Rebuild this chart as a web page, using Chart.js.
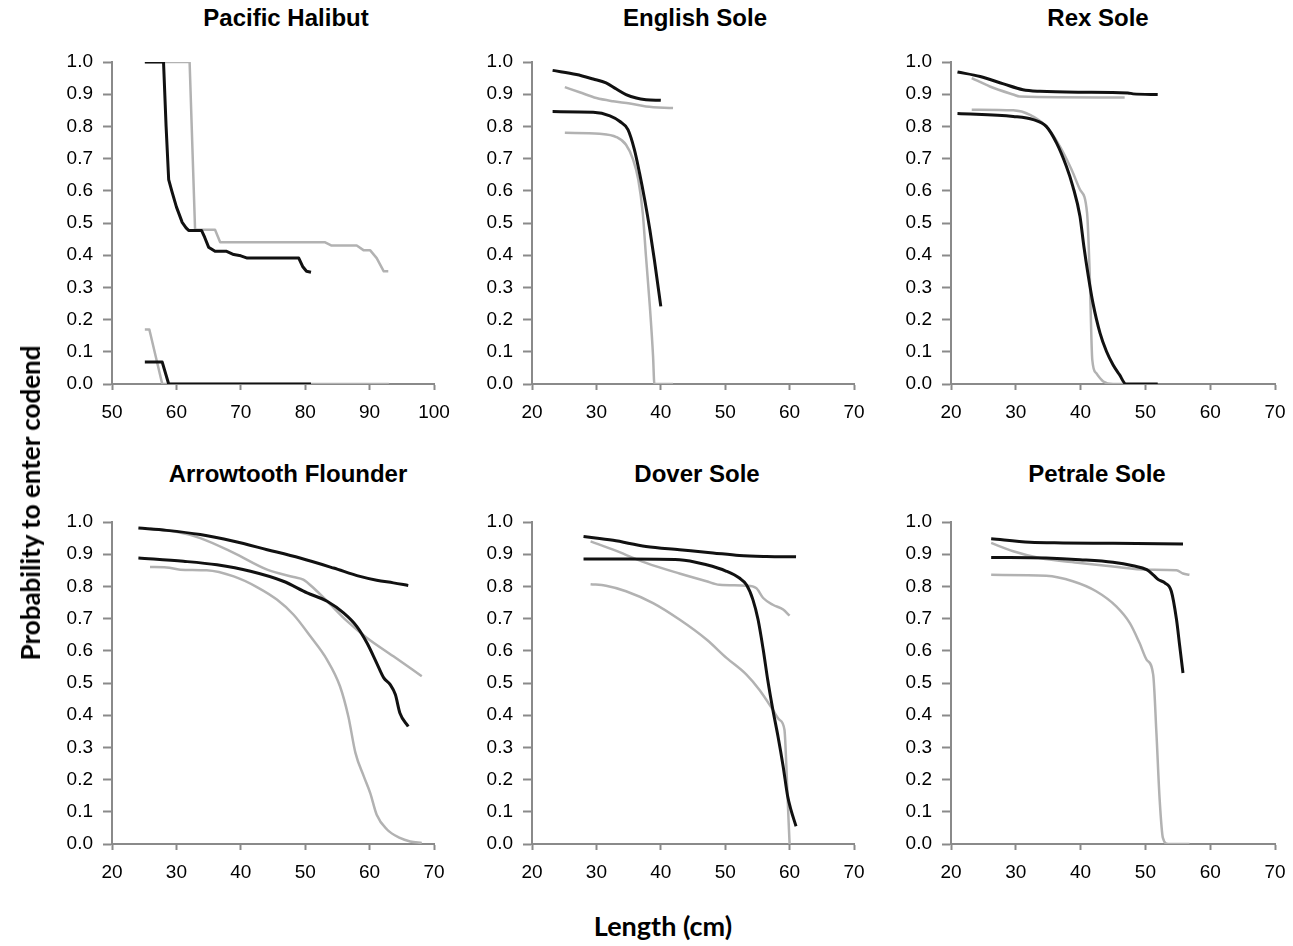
<!DOCTYPE html>
<html>
<head>
<meta charset="utf-8">
<script src="https://cdn.jsdelivr.net/npm/chart.js@4.4.1/dist/chart.umd.min.js"></script>
<style>
  html, body { margin: 0; padding: 0; background: #ffffff; }
  body { width: 1293px; height: 946px; position: relative; overflow: hidden; }
  canvas { position: absolute; }
  .panel-title {
    position: absolute; white-space: nowrap; color: #000;
    font-family: "Liberation Sans", Arial, sans-serif; font-weight: bold;
    font-size: 24px; line-height: 24px; transform: translate(-50%, -50%);
  }
  .axis-title {
    position: absolute; white-space: nowrap; color: #000;
    font-family: Lato, "Open Sans", sans-serif; font-weight: bold;
    font-size: 26px; line-height: 26px;
  }
</style>
</head>
<body>
<div id="figure"></div>
<div class="axis-title" style="left:30px; top:503px; transform: translate(-50%, -50%) rotate(-90deg);">Probability to enter codend</div>
<div class="axis-title" style="left:663px; top:925px; font-size:27px; line-height:27px; transform: translate(-50%, -50%);">Length (cm)</div>
<script>
// Species shown in each panel (row by row)
const speciesNames = ['Pacific Halibut', 'English Sole', 'Rex Sole',
                      'Arrowtooth Flounder', 'Dover Sole', 'Petrale Sole'];

// Length axis ranges (cm) per panel
const lengthMin = [50, 20, 20, 20, 20, 20];
const lengthMax = [100, 70, 70, 70, 70, 70];

// Probability axis ticks
const probTicks = [0.0, 0.1, 0.2, 0.3, 0.4, 0.5, 0.6, 0.7, 0.8, 0.9, 1.0];

// Curves as [length (cm), probability] pairs
const halibutBlackHigh = [[55.1,1.0],[58.0,1.0],[58.4,0.80],[58.8,0.635],[59.3,0.598],[60.0,0.55],[60.9,0.502],[61.5,0.485],[61.9,0.477],[63.9,0.477],[64.4,0.455],[65.0,0.425],[66.0,0.412],[67.8,0.412],[68.9,0.402],[70.0,0.398],[71.0,0.391],[79.0,0.391],[79.6,0.365],[80.2,0.35],[80.9,0.347]];
const halibutBlackLow  = [[55.1,0.068],[57.8,0.068],[58.8,0.0],[80.9,0.0]];
const halibutGreyHigh  = [[55.1,1.0],[62.05,1.0],[62.9,0.479],[66.0,0.479],[66.8,0.44],[83.1,0.44],[84.1,0.43],[88.0,0.43],[89.1,0.415],[90.1,0.415],[91.1,0.391],[92.2,0.35],[92.9,0.35]];
const halibutGreyLow   = [[55.1,0.169],[55.8,0.169],[57.8,0.0],[93.0,0.0]];

const englishBlackHigh = [[23.2,0.974],[26.9,0.961],[29.5,0.947],[31.5,0.935],[33.1,0.916],[34.6,0.899],[36.2,0.888],[37.7,0.883],[40.0,0.881]];
const englishBlackLow  = [[23.2,0.846],[29.5,0.844],[32.1,0.833],[33.6,0.816],[34.9,0.79],[35.9,0.728],[36.7,0.655],[37.5,0.572],[38.3,0.479],[39.0,0.386],[40.0,0.241]];
const englishGreyHigh  = [[25.1,0.922],[27.4,0.906],[30.0,0.888],[32.6,0.878],[35.2,0.871],[37.7,0.862],[41.9,0.857]];
const englishGreyLow   = [[25.1,0.78],[30.5,0.777],[33.1,0.767],[34.6,0.743],[35.7,0.697],[36.5,0.635],[37.2,0.531],[37.7,0.396],[38.3,0.241],[38.8,0.086],[39.0,0.0],[41.9,0.0]];

const rexBlackHigh = [[21.0,0.969],[24.5,0.955],[28.1,0.932],[31.1,0.914],[33.7,0.909],[39.9,0.906],[47.3,0.904],[48.1,0.901],[51.9,0.899]];
const rexBlackLow  = [[21.0,0.84],[29.6,0.831],[32.7,0.821],[34.7,0.80],[36.3,0.748],[37.8,0.676],[38.8,0.614],[39.9,0.521],[40.5,0.428],[41.2,0.334],[41.9,0.252],[43.0,0.158],[44.0,0.101],[45.0,0.06],[46.0,0.029],[47.0,0.0],[51.9,0.0]];
const rexGreyHigh  = [[23.2,0.95],[26.0,0.924],[29.6,0.899],[30.6,0.893],[46.8,0.89]];
const rexGreyLow   = [[23.2,0.852],[29.6,0.85],[32.2,0.836],[34.7,0.80],[36.8,0.738],[38.6,0.666],[39.9,0.604],[41.0,0.531],[41.4,0.345],[41.8,0.076],[42.4,0.034],[43.5,0.008],[45.0,0.0],[46.8,0.0]];

const arrowBlackHigh = [[24.1,0.981],[28.5,0.974],[33.7,0.961],[38.9,0.94],[44.1,0.914],[49.2,0.888],[54.4,0.857],[58.5,0.831],[61.1,0.819],[63.7,0.811],[66.0,0.803]];
const arrowBlackLow  = [[24.1,0.888],[31.1,0.878],[36.3,0.867],[41.5,0.847],[46.6,0.816],[50.3,0.78],[53.4,0.754],[56.0,0.717],[58.0,0.676],[59.6,0.624],[61.1,0.562],[62.2,0.516],[63.2,0.495],[64.0,0.464],[64.7,0.407],[66.0,0.365]];
const arrowGreyHigh  = [[25.9,0.979],[29.6,0.971],[33.7,0.95],[38.9,0.904],[44.1,0.852],[48.2,0.829],[49.7,0.821],[51.3,0.795],[53.4,0.754],[56.5,0.692],[59.6,0.64],[63.7,0.583],[68.1,0.521]];
const arrowGreyLow   = [[25.9,0.86],[28.5,0.859],[30.6,0.852],[34.7,0.85],[38.9,0.831],[42.5,0.798],[45.6,0.759],[48.2,0.712],[50.8,0.645],[53.4,0.572],[55.4,0.49],[56.7,0.396],[57.8,0.283],[59.1,0.21],[60.1,0.158],[61.1,0.091],[62.7,0.045],[64.7,0.019],[66.3,0.008],[68.1,0.003]];

const doverBlackHigh = [[28.0,0.955],[32.6,0.943],[37.7,0.924],[42.9,0.914],[48.1,0.904],[52.2,0.896],[56.4,0.893],[61.0,0.892]];
const doverBlackLow  = [[28.0,0.885],[35.2,0.885],[42.9,0.883],[47.1,0.867],[50.2,0.847],[52.2,0.826],[53.3,0.805],[54.3,0.759],[55.1,0.697],[55.9,0.604],[56.6,0.51],[57.4,0.417],[58.2,0.334],[59.0,0.241],[59.7,0.148],[60.2,0.107],[61.0,0.055]];
const doverGreyHigh  = [[29.1,0.94],[32.6,0.914],[37.7,0.873],[42.9,0.84],[47.1,0.816],[49.1,0.805],[53.3,0.802],[54.8,0.795],[55.9,0.764],[57.4,0.743],[59.0,0.728],[60.0,0.709]];
const doverGreyLow   = [[29.1,0.807],[31.5,0.802],[34.6,0.785],[38.8,0.748],[42.9,0.697],[47.1,0.635],[50.2,0.578],[53.3,0.526],[55.3,0.479],[57.4,0.417],[58.4,0.386],[59.2,0.355],[59.5,0.241],[59.7,0.138],[60.0,0.0]];

const petraleBlackHigh = [[26.2,0.948],[32.2,0.937],[37.3,0.935],[45.0,0.934],[55.8,0.932]];
const petraleBlackLow  = [[26.2,0.89],[34.7,0.888],[39.9,0.883],[45.0,0.875],[48.1,0.864],[50.2,0.852],[51.2,0.836],[52.0,0.821],[53.0,0.811],[54.0,0.785],[54.8,0.697],[55.3,0.614],[55.8,0.531]];
const petraleGreyHigh  = [[26.2,0.935],[29.6,0.909],[33.7,0.888],[39.9,0.873],[45.0,0.862],[50.2,0.852],[54.8,0.85],[55.8,0.84],[56.8,0.836]];
const petraleGreyLow   = [[26.2,0.836],[34.7,0.833],[38.8,0.816],[42.4,0.785],[45.5,0.738],[47.6,0.686],[49.1,0.624],[50.2,0.572],[51.2,0.526],[51.7,0.345],[52.2,0.138],[52.7,0.019],[53.5,0.0],[56.8,0.0]];

// Black curves first so they are painted above the grey ones
const panelSeries = [
  [halibutBlackHigh, halibutBlackLow, halibutGreyHigh, halibutGreyLow],
  [englishBlackHigh, englishBlackLow, englishGreyHigh, englishGreyLow],
  [rexBlackHigh, rexBlackLow, rexGreyHigh, rexGreyLow],
  [arrowBlackHigh, arrowBlackLow, arrowGreyHigh, arrowGreyLow],
  [doverBlackHigh, doverBlackLow, doverGreyHigh, doverGreyLow],
  [petraleBlackHigh, petraleBlackLow, petraleGreyHigh, petraleGreyLow]
];
const seriesColors = ['#111111', '#111111', '#b2b2b2', '#b2b2b2'];
const seriesWidths = [3, 3, 2.5, 2.5];

// Page geometry
const plotLeft   = [112, 532, 951];
const plotWidth  = [322, 322, 324];
const rowTop     = [62, 522];
const plotHeight = 322;
const yAxisWidth = 70, xAxisHeight = 42, topPad = 22, rightPad = 18;
const titleCenterX = [[286, 695, 1098], [288, 697, 1097]];
const titleCenterY = [18, 474];

const AXIS_COLOR = '#8a8a8a';
const TICK_FONT = { family: '"Liberation Sans", Arial, sans-serif', size: 19 };

const fig = document.getElementById('figure');

speciesNames.forEach((name, i) => {
  const row = Math.floor(i / 3), col = i % 3;

  const title = document.createElement('div');
  title.className = 'panel-title';
  title.textContent = name;
  title.style.left = titleCenterX[row][col] + 'px';
  title.style.top = titleCenterY[row] + 'px';
  fig.appendChild(title);

  const canvas = document.createElement('canvas');
  const w = yAxisWidth + plotWidth[col] + rightPad;
  const h = topPad + plotHeight + xAxisHeight;
  canvas.width = w; canvas.height = h;
  canvas.style.width = w + 'px'; canvas.style.height = h + 'px';
  canvas.style.left = (plotLeft[col] - yAxisWidth) + 'px';
  canvas.style.top = (rowTop[row] - topPad) + 'px';
  fig.appendChild(canvas);

  const stepped = i === 0;
  const datasets = panelSeries[i].map((pts, k) => ({
    data: pts.map(p => ({ x: p[0], y: p[1] })),
    borderColor: seriesColors[k],
    borderWidth: seriesWidths[k],
    pointRadius: 0,
    fill: false,
    tension: stepped ? 0 : 0.4,
    cubicInterpolationMode: stepped ? 'default' : 'monotone',
    borderJoinStyle: 'round'
  }));

  new Chart(canvas, {
    type: 'line',
    data: { datasets },
    options: {
      responsive: false,
      animation: false,
      devicePixelRatio: 1,
      layout: { padding: { left: 0, right: rightPad, top: topPad, bottom: 0 } },
      plugins: { legend: { display: false }, tooltip: { enabled: false }, title: { display: false } },
      scales: {
        x: {
          type: 'linear',
          min: lengthMin[i], max: lengthMax[i],
          // fixed axis band; the end labels spill into the layout padding
          afterFit: s => { s.height = xAxisHeight; s.paddingLeft = 0; s.paddingRight = 0; },
          ticks: { stepSize: 10, color: '#000', font: TICK_FONT, padding: 11, maxRotation: 0, autoSkip: false },
          grid: { drawOnChartArea: false, tickLength: 6, tickWidth: 2, tickColor: AXIS_COLOR, color: AXIS_COLOR },
          border: { color: AXIS_COLOR, width: 2 }
        },
        y: {
          type: 'linear',
          min: probTicks[0], max: probTicks[probTicks.length - 1],
          afterFit: s => { s.width = yAxisWidth; },
          afterBuildTicks: s => { s.ticks = probTicks.map(v => ({ value: v })); },
          ticks: { color: '#000', font: TICK_FONT, padding: 10, callback: v => Number(v).toFixed(1) },
          grid: { drawOnChartArea: false, tickLength: 9, tickWidth: 2, tickColor: AXIS_COLOR, color: AXIS_COLOR },
          border: { color: AXIS_COLOR, width: 2 }
        }
      }
    }
  });
});
</script>
</body>
</html>
